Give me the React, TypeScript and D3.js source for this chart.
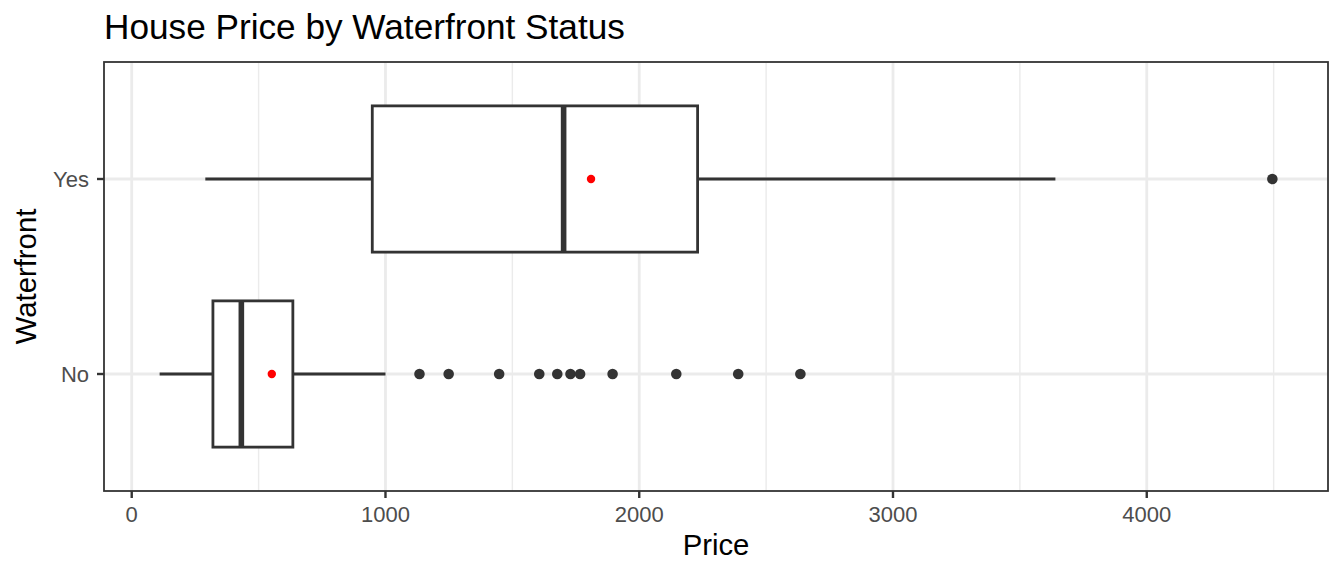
import React from "react";
import * as d3 from "d3";

const categories = ["No", "Yes"];
const whiskerLow = [110, 290];
const q1 = [320, 948];
const median = [432, 1702];
const q3 = [635, 2230];
const whiskerHigh = [1000, 3640];
const means = [552, 1810];
const outliersNo = [1134, 1249, 1448, 1606, 1677, 1729, 1767, 1895, 2146, 2390, 2635];
const outliersYes = [4495];
const xTicks = [0, 1000, 2000, 3000, 4000];
const xMinor = [500, 1500, 2500, 3500, 4500];

const W = 1344, H = 576;
const P = { left: 104, right: 1328, top: 62, bottom: 491 };
const FONT = "'Liberation Sans', Arial, Helvetica, sans-serif";

export default function App() {
  const outliers = [outliersNo, outliersYes];
  const allVals = [...whiskerLow, ...whiskerHigh, ...outliersNo, ...outliersYes];
  const lo = d3.min(allVals)!, hi = d3.max(allVals)!;
  const pad = (hi - lo) * 0.05;
  const x = d3.scaleLinear().domain([lo - pad, hi + pad]).range([P.left, P.right]);
  // discrete y: positions 1..n with 0.6 expansion
  const yc = d3.scaleLinear().domain([0.4, categories.length + 0.6]).range([P.bottom, P.top]);
  const bw = (yc(0) - yc(0.75)) / 2;
  const lw = 2.8;
  const grey20 = "#333333";
  return (
    <svg width={W} height={H} style={{ position: "absolute", left: 0, top: 0, background: "#fff" }} fontFamily={FONT}>
      <rect x={0} y={0} width={W} height={H} fill="#fff" />
      {xMinor.map((v) => (
        <line key={"mn" + v} x1={x(v)} x2={x(v)} y1={P.top} y2={P.bottom} stroke="#EBEBEB" strokeWidth={1.4} />
      ))}
      {xTicks.map((v) => (
        <line key={"mj" + v} x1={x(v)} x2={x(v)} y1={P.top} y2={P.bottom} stroke="#EBEBEB" strokeWidth={2.8} />
      ))}
      {categories.map((c, i) => (
        <line key={"hy" + c} x1={P.left} x2={P.right} y1={yc(i + 1)} y2={yc(i + 1)} stroke="#EBEBEB" strokeWidth={2.8} />
      ))}
      {categories.map((c, i) => {
        const cy = yc(i + 1);
        return (
          <g key={"box" + c}>
            <line x1={x(whiskerLow[i])} x2={x(q1[i])} y1={cy} y2={cy} stroke={grey20} strokeWidth={lw} />
            <line x1={x(q3[i])} x2={x(whiskerHigh[i])} y1={cy} y2={cy} stroke={grey20} strokeWidth={lw} />
            <rect x={x(q1[i])} y={cy - bw} width={x(q3[i]) - x(q1[i])} height={2 * bw} fill="#fff" stroke={grey20} strokeWidth={lw} />
            <line x1={x(median[i])} x2={x(median[i])} y1={cy - bw} y2={cy + bw} stroke={grey20} strokeWidth={lw * 2} />
            {outliers[i].map((v, j) => (
              <circle key={j} cx={x(v)} cy={cy} r={5.3} fill={grey20} />
            ))}
            <circle cx={x(means[i])} cy={cy} r={4.2} fill="#FF0000" />
          </g>
        );
      })}
      <rect x={P.left} y={P.top} width={P.right - P.left} height={P.bottom - P.top} fill="none" stroke={grey20} strokeWidth={1.8} />
      {xTicks.map((v) => (
        <g key={"xt" + v}>
          <line x1={x(v)} x2={x(v)} y1={P.bottom} y2={P.bottom + 7} stroke={grey20} strokeWidth={2.4} />
          <text x={x(v)} y={522} textAnchor="middle" fontSize={22} fill="#4D4D4D">{v}</text>
        </g>
      ))}
      {categories.map((c, i) => (
        <g key={"yt" + c}>
          <line x1={P.left - 7} x2={P.left} y1={yc(i + 1)} y2={yc(i + 1)} stroke={grey20} strokeWidth={2.4} />
          <text x={P.left - 15} y={yc(i + 1)} dy="0.36em" textAnchor="end" fontSize={22} fill="#4D4D4D">{c}</text>
        </g>
      ))}
      <text x={(P.left + P.right) / 2} y={555} textAnchor="middle" fontSize={29.3} fill="#000">Price</text>
      <text transform={`translate(35.5,${(P.top + P.bottom) / 2}) rotate(-90)`} textAnchor="middle" fontSize={29.3} fill="#000">Waterfront</text>
      <text x={P.left} y={39} fontSize={35.2} fill="#000">House Price by Waterfront Status</text>
    </svg>
  );
}
